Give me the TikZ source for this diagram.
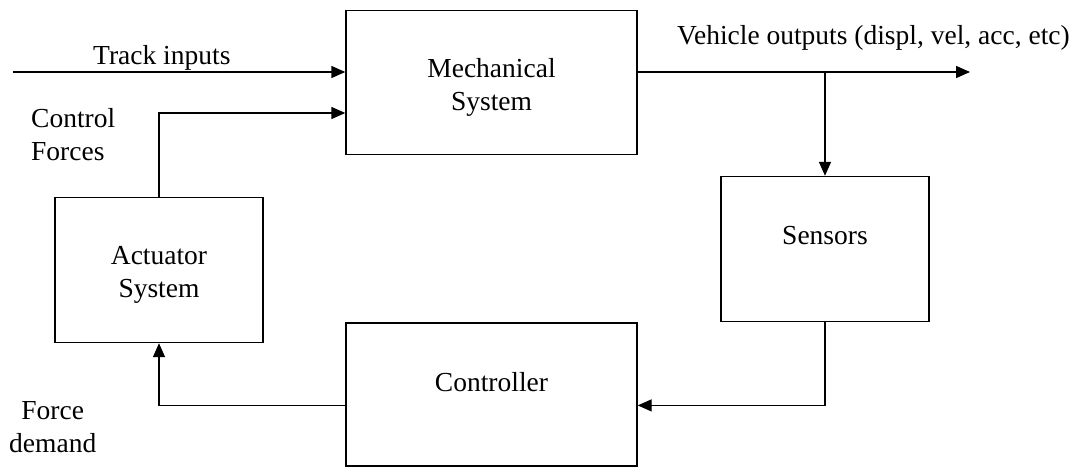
\documentclass[tikz,border=0pt]{standalone}
\usepackage{fontspec}
\setmainfont{Liberation Serif}
\usetikzlibrary{positioning,arrows.meta}

\tikzset{
  blk/.style={draw, line width=1.4pt, inner sep=0pt},
  wide/.style={blk, minimum width=291pt, minimum height=144pt},
  narrow/.style={blk, minimum width=208pt, minimum height=145pt},
  lbl/.style={inner sep=0pt, align=center, font=\fontsize{27.5pt}{33pt}\selectfont},
  sig/.style={line width=1.4pt, -{Triangle[length=14pt,width=12pt]}},
}

\begin{document}
\begin{tikzpicture}[x=1pt,y=-1pt]
            \useasboundingbox (0,0) rectangle (1078,468);

            % blocks
            \node[wide] (mech) at (491.5,82.5) {};
            \node[wide, minimum height=143pt, below=167pt of mech] (ctrl) {};
            \node[narrow] (sens) at (825,249) {};
            \node[narrow] (act) at (159,270) {};

            % block texts
            \node[lbl] (mech-txt) at ([yshift=-5pt]mech.center) {Mechanical\\System};
            \node[lbl] (ctrl-txt) at ([yshift=12pt]ctrl.center) {Controller};
            \node[lbl] (sens-txt) at ([yshift=13pt]sens.center) {Sensors};
            \node[lbl] (act-txt) at ([yshift=-5pt]act.center) {Actuator\\System};

            % free ends
            \coordinate (trk) at (13,72);
            \coordinate (out) at (970,72);

            % labels
            \node[lbl, anchor=west] (trk-lbl) at (93,58) {Track inputs};
            \node[lbl, anchor=west, align=left] (cf-lbl) at (31,135) {Control\\Forces};
            \node[lbl, anchor=west] (out-lbl) at (677,38) {Vehicle outputs (displ, vel, acc, etc)};
            \node[lbl, anchor=west] (fd-lbl) at (9,427) {Force\\demand};

            % signals
            \draw[sig] (trk) -- (mech.west |- trk);
            \draw[sig] (act.north) |- ([yshift=-30.5pt]mech.west);
            \draw[sig] (mech.east |- out) -- (out);
            \draw[sig] (sens.north |- out) -- (sens.north);
            \draw[sig] (sens.south) |- ([yshift=-11pt]ctrl.east);
            \draw[sig] ([yshift=-11pt]ctrl.west) -| (act.south);
\end{tikzpicture}
\end{document}
